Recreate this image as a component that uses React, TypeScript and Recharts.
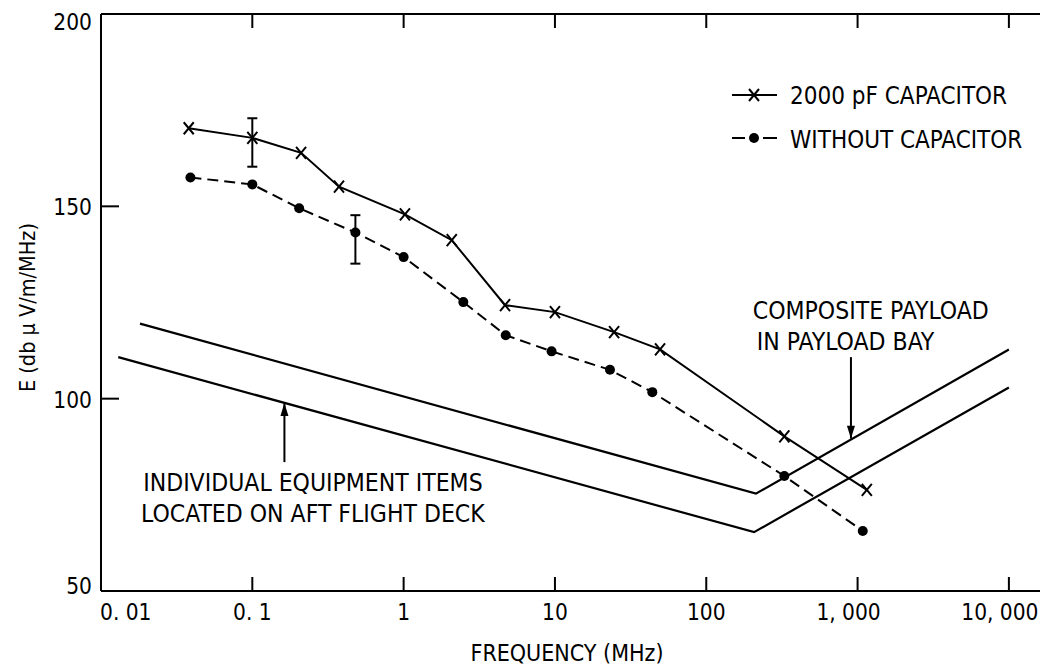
import React from "react";
import { ComposedChart, Line, XAxis, YAxis, ErrorBar, ReferenceDot, Legend } from "recharts";

// frequency (MHz) / field strength (db uV/m/MHz)
const capFreq = [0.038, 0.1, 0.21, 0.374, 1.02, 2.08, 4.68, 10, 24.6, 49.5, 328, 1151];
const capE = [170.3, 167.8, 163.9, 155.1, 147.9, 141.2, 124.3, 122.5, 117.3, 112.8, 90.2, 76.3];
const noCapFreq = [0.039, 0.1, 0.204, 0.48, 1.0, 2.48, 4.73, 9.5, 23.1, 44.0, 328, 1082];
const noCapE = [157.5, 155.7, 149.5, 143.2, 136.8, 125.1, 116.5, 112.3, 107.5, 101.7, 79.9, 65.6];

// error bars: [freq, value, below, above]
const capErr = [0.1, 167.8, 7.5, 5.1];
const noCapErr = [0.48, 143.2, 8.1, 4.5];

// limit lines
const compositeFreq = [0.0181, 213, 10000];
const compositeE = [119.5, 75.3, 112.8];
const individualFreq = [0.013, 207, 10000];
const individualE = [110.8, 65.3, 102.9];

// annotation arrows [freq, from, to]
const individualArrow = [0.163, 83.5, 98.9];
const compositeArrow = [904, 110.8, 89.6];

const xTicks = [0.01, 0.1, 1, 10, 100, 1000, 10000];
const xTickLabels = ["0. 01", "0. 1", "1", "10", "100", "1, 000", "10, 000"];
const yTicks = [50, 100, 150, 200];

const FONT = "'Liberation Sans Narrow', 'DejaVu Sans Condensed', 'Arial Narrow', sans-serif";

const toRows = (f: number[], e: number[]) => f.map((v, i) => ({ f: v, e: e[i] }));

const capData = toRows(capFreq, capE);
const noCapData = toRows(noCapFreq, noCapE);
const compositeData = toRows(compositeFreq, compositeE);
const individualData = toRows(individualFreq, individualE);
const capErrData = [{ f: capErr[0], e: capErr[1], err: [capErr[2], capErr[3]] }];
const noCapErrData = [{ f: noCapErr[0], e: noCapErr[1], err: [noCapErr[2], noCapErr[3]] }];
const indArrowData = [
  { f: individualArrow[0], e: individualArrow[1] },
  { f: individualArrow[0], e: individualArrow[2] },
];
const compArrowData = [
  { f: compositeArrow[0], e: compositeArrow[1] },
  { f: compositeArrow[0], e: compositeArrow[2] },
];

const XDot = (p: any) => {
  const { cx, cy, index } = p;
  if (cx == null || cy == null) return <g key={index} />;
  return (
    <path
      key={index}
      d={`M${cx - 5},${cy - 6}L${cx + 5},${cy + 6}M${cx + 5},${cy - 6}L${cx - 5},${cy + 6}`}
      stroke="#000" strokeWidth={2} fill="none"
    />
  );
};

const NoDot = (p: any) => <g key={p.index} />;

const arrowHead = (up: boolean) => (p: any) => {
  const { cx, cy, index } = p;
  if (index !== 1 || cx == null) return <g key={index} />;
  const b = up ? cy + 13 : cy - 13;
  return <path key={index} d={`M${cx},${cy}L${cx - 4},${b}L${cx + 4},${b}Z`} fill="#000" />;
};

const BottomTick = (p: any) => {
  const { x, y, payload } = p;
  const i = xTicks.indexOf(payload.value);
  let anchor = "middle";
  let dx = 0;
  if (i === 0) { anchor = "start"; dx = -1; }
  if (i >= 5) dx = -9;
  return (
    <g>
      <line x1={x} x2={x} y1={y} y2={y - 14} stroke="#000" strokeWidth={2} />
      <text x={x + dx} y={y + 21} textAnchor={anchor} dominantBaseline="central"
        fontFamily={FONT} fontSize={22.5} fill="#000">
        {xTickLabels[i]}
      </text>
    </g>
  );
};

const TopTick = (p: any) => {
  const { x, y } = p;
  return <line x1={x} x2={x} y1={y} y2={y + 14} stroke="#000" strokeWidth={2} />;
};

const LeftTick = (p: any) => {
  const { x, y, payload } = p;
  const v = payload.value;
  const dy = v === 200 ? 8 : v === 50 ? -5 : 1;
  return (
    <g>
      <line x1={x} x2={x + 18} y1={y} y2={y} stroke="#000" strokeWidth={2} />
      <text x={x - 9} y={y + dy} textAnchor="end" dominantBaseline="central"
        fontFamily={FONT} fontSize={22.5} fill="#000">
        {v}
      </text>
    </g>
  );
};

const RightTick = (p: any) => {
  const { x, y, payload } = p;
  if (payload.value === 50 || payload.value === 200) return <g />;
  return <line x1={x - 12} x2={x} y1={y} y2={y} stroke="#000" strokeWidth={2} />;
};

const note = (text: string) => (p: any) => (
  <text x={p.cx} y={p.cy} dominantBaseline="central" fontFamily={FONT} fontSize={24.5} fill="#000">
    {text}
  </text>
);

const LegendBox = () => (
  <svg width={320} height={90} style={{ display: "block" }}>
    <line x1={7} x2={52} y1={20} y2={20} stroke="#000" strokeWidth={2} />
    <path d="M24,14L34,26M34,14L24,26" stroke="#000" strokeWidth={2} />
    <text x={65} y={21} dominantBaseline="central" fontFamily={FONT} fontSize={24}>2000 pF CAPACITOR</text>
    <line x1={7} x2={20} y1={63} y2={63} stroke="#000" strokeWidth={2} />
    <circle cx={29} cy={63} r={5} fill="#000" />
    <line x1={38} x2={52} y1={63} y2={63} stroke="#000" strokeWidth={2} />
    <text x={65} y={65} dominantBaseline="central" fontFamily={FONT} fontSize={24}>WITHOUT CAPACITOR</text>
  </svg>
);

export default function App() {
  const xDomain = [0.01, 16300];
  return (
    <div style={{ fontFamily: FONT }}>
      <style>{"html,body{margin:0;padding:0;overflow:hidden;background:#fff}"}</style>
      <ComposedChart width={1042} height={668} margin={{ top: 13, right: 0, left: 100, bottom: 76 }}>
        <XAxis
          dataKey="f" type="number" scale="log" domain={xDomain} allowDataOverflow
          ticks={xTicks} interval={0} height={1} tickSize={0} tickMargin={0}
          tickLine={false} tick={BottomTick}
          axisLine={{ stroke: "#000", strokeWidth: 2 }}
          label={({ viewBox }: any) => (
            <text x={viewBox.x + viewBox.width / 2 - 4} y={viewBox.y + 62} textAnchor="middle"
              dominantBaseline="central" fontFamily={FONT} fontSize={23} fill="#000">
              FREQUENCY (MHz)
            </text>
          )}
        />
        <XAxis
          xAxisId="t" orientation="top" dataKey="f" type="number" scale="log" domain={xDomain}
          allowDataOverflow ticks={xTicks} interval={0} height={1} tickSize={0} tickMargin={0}
          tickLine={false} tick={TopTick}
          axisLine={{ stroke: "#000", strokeWidth: 2 }}
        />
        <YAxis
          type="number" domain={[50, 200]} ticks={yTicks} interval={0} width={1}
          tickSize={0} tickMargin={0} tickLine={false} tick={LeftTick}
          axisLine={{ stroke: "#000", strokeWidth: 2 }}
          label={({ viewBox }: any) => {
            const cx = 27;
            const cy = viewBox.y + viewBox.height / 2 + 5;
            return (
              <text x={cx} y={cy} transform={`rotate(-90 ${cx} ${cy})`} textAnchor="middle"
                dominantBaseline="central" fontFamily={FONT} fontSize={21.5} fill="#000">
                E (db μ V/m/MHz)
              </text>
            );
          }}
        />
        <YAxis
          yAxisId="r" orientation="right" type="number" domain={[50, 200]} ticks={yTicks}
          interval={0} width={1} tickSize={0} tickMargin={0} tickLine={false}
          tick={RightTick} axisLine={false}
        />

        <Line data={compositeData} dataKey="e" type="linear" stroke="#000" strokeWidth={2.2}
          dot={false} activeDot={false} isAnimationActive={false} />
        <Line data={individualData} dataKey="e" type="linear" stroke="#000" strokeWidth={2.2}
          dot={false} activeDot={false} isAnimationActive={false} />

        <Line data={capData} dataKey="e" type="linear" stroke="#000" strokeWidth={2}
          dot={XDot} activeDot={false} isAnimationActive={false} />
        <Line data={noCapData} dataKey="e" type="linear" stroke="#000" strokeWidth={2}
          strokeDasharray="11 6" dot={{ r: 5, fill: "#000", stroke: "#000", strokeWidth: 0 }}
          activeDot={false} isAnimationActive={false} />

        <Line data={capErrData} dataKey="e" stroke="none" dot={NoDot} activeDot={false}
          isAnimationActive={false}>
          <ErrorBar dataKey="err" direction="y" width={5} stroke="#000" strokeWidth={2} />
        </Line>
        <Line data={noCapErrData} dataKey="e" stroke="none" dot={NoDot} activeDot={false}
          isAnimationActive={false}>
          <ErrorBar dataKey="err" direction="y" width={5} stroke="#000" strokeWidth={2} />
        </Line>

        <Line data={indArrowData} dataKey="e" stroke="#000" strokeWidth={2}
          dot={arrowHead(true)} activeDot={false} isAnimationActive={false} />
        <Line data={compArrowData} dataKey="e" stroke="#000" strokeWidth={2}
          dot={arrowHead(false)} activeDot={false} isAnimationActive={false} />

        <ReferenceDot x={0.019} y={78.2} r={0} shape={note("INDIVIDUAL EQUIPMENT ITEMS")} />
        <ReferenceDot x={0.0184} y={70.2} r={0} shape={note("LOCATED ON AFT FLIGHT DECK")} />
        <ReferenceDot x={203} y={123.0} r={0} shape={note("COMPOSITE PAYLOAD")} />
        <ReferenceDot x={216} y={114.9} r={0} shape={note("IN PAYLOAD BAY")} />

        <Legend layout="horizontal" verticalAlign="middle" align="center"
          wrapperStyle={{ position: "absolute", left: 725, top: 75, width: 320 }}
          content={() => <LegendBox />} />
      </ComposedChart>
    </div>
  );
}
